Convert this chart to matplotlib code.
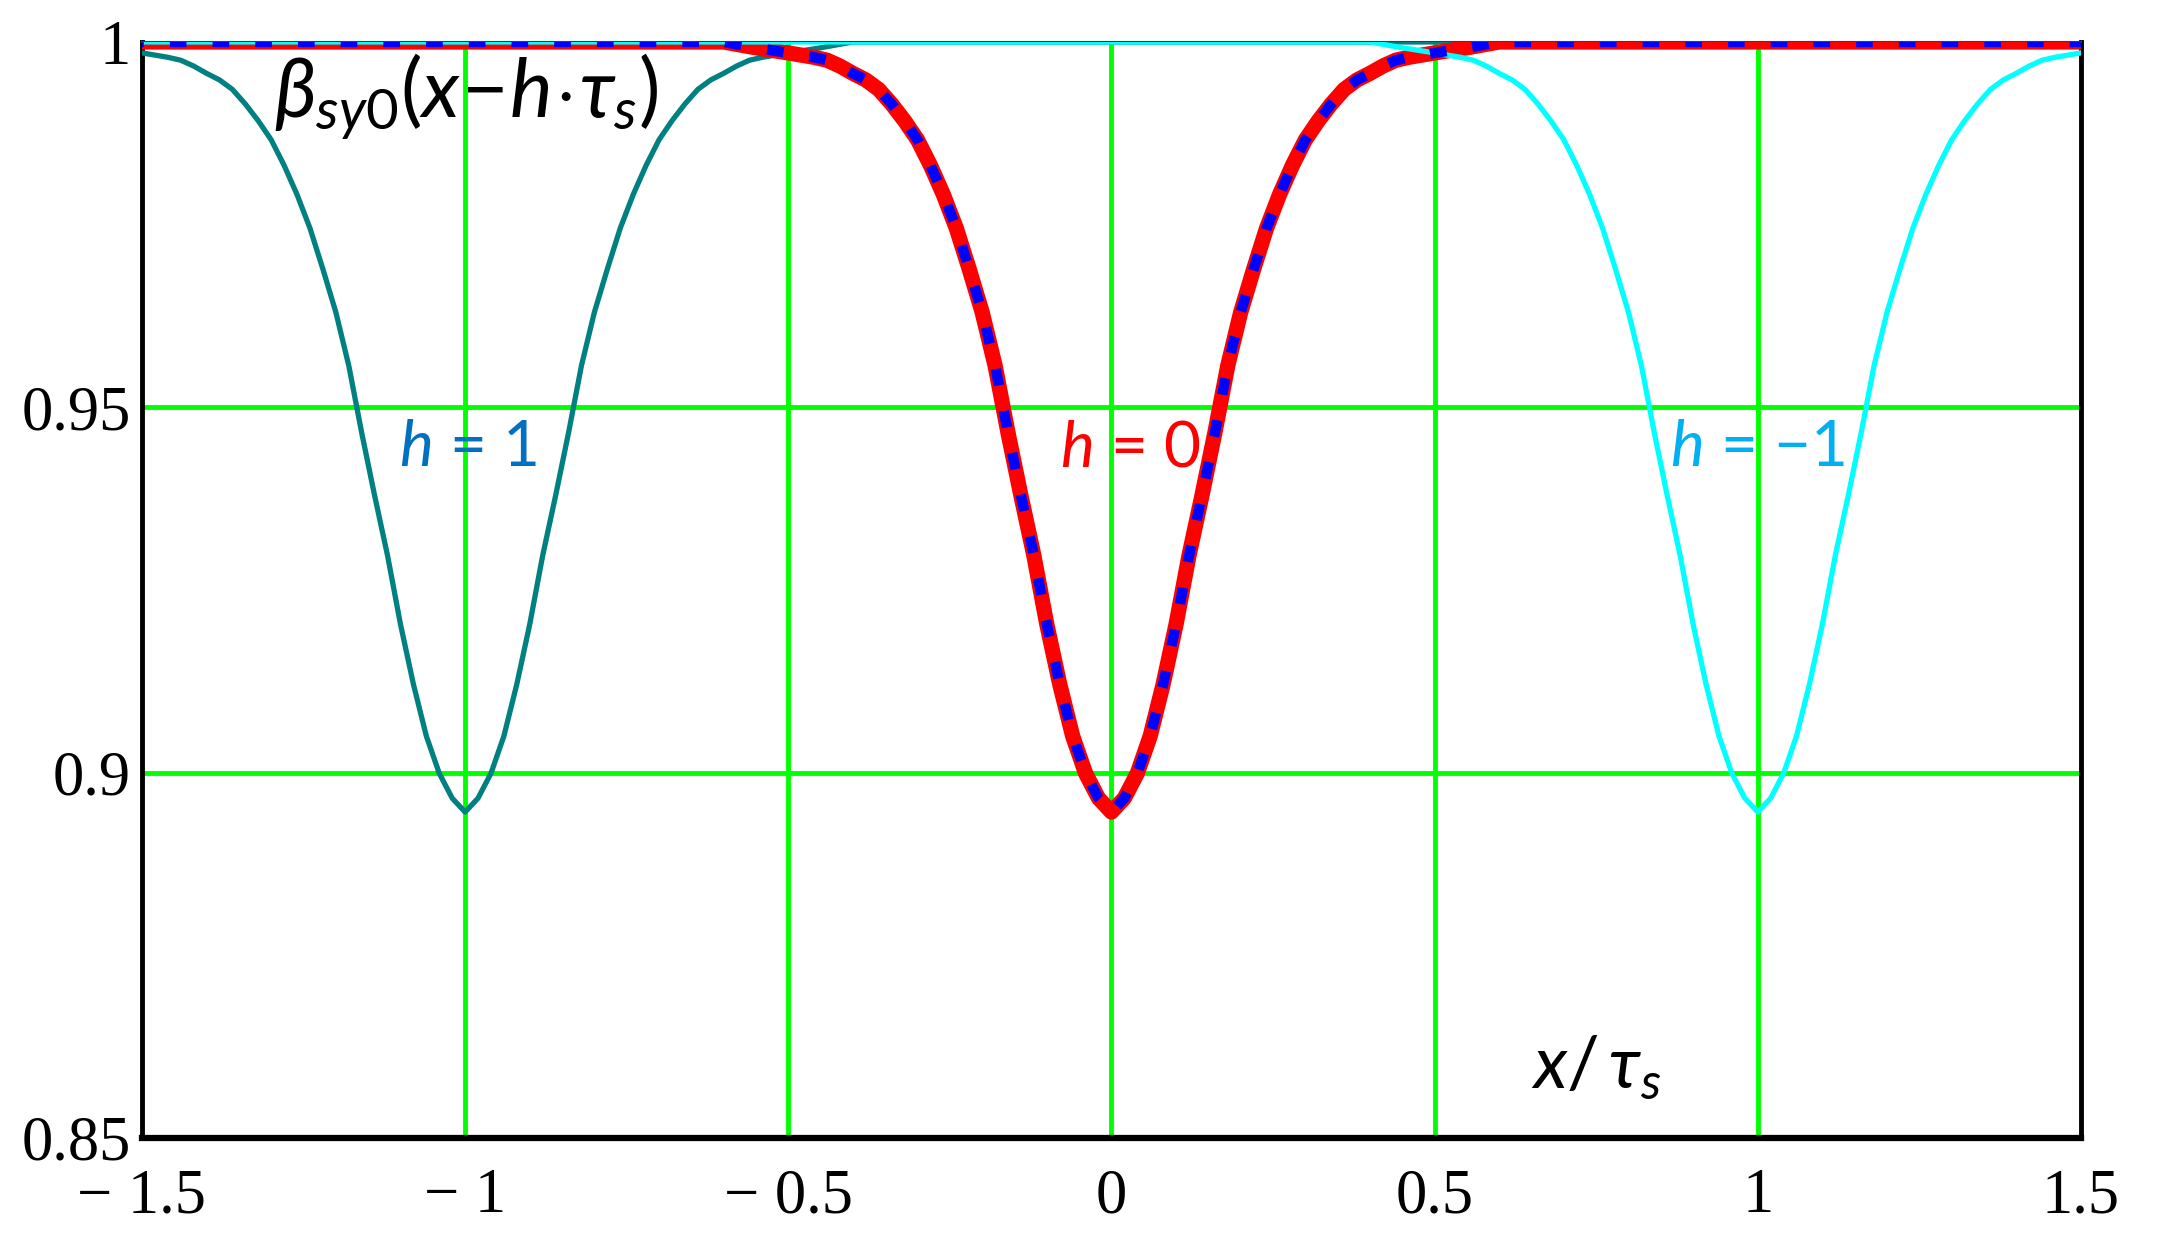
import numpy as np
import matplotlib.pyplot as plt

rel_x = [0.0, 0.02, 0.04, 0.06, 0.08, 0.10, 0.12, 0.14, 0.16, 0.18, 0.20,
         0.22, 0.24, 0.26, 0.28, 0.30, 0.32, 0.34, 0.36, 0.38, 0.40,
         0.42, 0.44, 0.46, 0.48, 0.50, 0.55, 0.60]
beta = [0.8946, 0.8965, 0.8999, 0.9050, 0.9121, 0.9203, 0.9297, 0.9379, 0.9465,
        0.9557, 0.9630, 0.9689, 0.9745, 0.9791, 0.9831, 0.9866, 0.9892, 0.9915,
        0.9935, 0.9948, 0.9957, 0.9967, 0.9975, 0.9979, 0.9982, 0.9985, 0.9992, 1.0]
shifts = [1, 0, -1]

xticks = [-1.5, -1, -0.5, 0, 0.5, 1, 1.5]
xticklabels = ['\u2212 1.5', '\u2212 1', '\u2212 0.5', '0', '0.5', '1', '1.5']
yticks = [0.85, 0.9, 0.95, 1.0]
yticklabels = ['0.85', '0.9', '0.95', '1']

plt.rcParams['mathtext.fontset'] = 'custom'
plt.rcParams['mathtext.rm'] = 'Lato'
plt.rcParams['mathtext.it'] = 'Lato:italic'

rel = np.concatenate([-np.array(rel_x[::-1]), np.array(rel_x[1:])])
val = np.concatenate([np.array(beta[::-1]), np.array(beta[1:])])

def curve(h):
    # the pattern is centred at x = -h, flat at 1 elsewhere
    x = np.concatenate([[-2.0], rel - h, [2.0]])
    y = np.concatenate([[1.0], val, [1.0]])
    return x, y

fig = plt.figure(figsize=(21.64, 12.56), dpi=100)
ax = fig.add_axes([0.0656, 0.094, 0.896, 0.8726])

x1, y1 = curve(shifts[0])
x0, y0 = curve(shifts[1])
xm, ym = curve(shifts[2])
ax.plot(x1, y1, color='#008080', lw=3.8, zorder=3)
ax.plot(x0, y0, color='#ff0000', lw=11, zorder=4, solid_capstyle='round')
ax.plot(xm, ym, color='#00ffff', lw=3.8, zorder=5)
l, = ax.plot(x0, y0, color='#0000ff', lw=7.5, zorder=6)
l.set_dashes((1.6, 2.5))

ax.set_xlim(-1.5, 1.5)
ax.set_ylim(0.85, 1.0)
ax.set_xticks(xticks)
ax.set_xticklabels(xticklabels)
ax.set_yticks(yticks)
ax.set_yticklabels(yticklabels)
ax.tick_params(length=0, labelsize=45)
ax.tick_params(axis='x', pad=22)
ax.tick_params(axis='y', pad=8)
for lab in ax.get_xticklabels() + ax.get_yticklabels():
    lab.set_family(['Liberation Serif', 'DejaVu Serif'])

for g in [-1, -0.5, 0, 0.5, 1]:
    ax.axvline(g, color='#00ff00', lw=3.5, zorder=1)
for g in [0.9, 0.95]:
    ax.axhline(g, color='#00ff00', lw=3.5, zorder=1)

for s in ['left', 'right']:
    ax.spines[s].set_linewidth(3.5)
ax.spines['bottom'].set_linewidth(4.5)
ax.spines['top'].set_linewidth(1.5)
ax.spines['top'].set_color('#1a4d3a')

fs = dict(family=['Lato', 'DejaVu Sans'])
ax.text(-1.295, 0.9925, r'$\beta_{sy0}(x\!-\!h\!\cdot\!\tau_s)$', fontsize=58,
        ha='left', va='center', zorder=7, **fs)
ax.text(-0.995, 0.9444, r'$h$ = 1', color='#0070c0', fontsize=46,
        ha='center', va='center', zorder=7, **fs)
ax.text(0.03, 0.9444, r'$h$ = 0', color='#ff0000', fontsize=46,
        ha='center', va='center', zorder=7, **fs)
ax.text(1.0, 0.9444, '$h$ = \u22121', color='#00b0f0', fontsize=46,
        ha='center', va='center', zorder=7, **fs)
ax.text(0.75, 0.8597, r'$x/\,\tau_s$', fontsize=52,
        ha='center', va='center', zorder=7, **fs)

fig.savefig('out.png', dpi=100)
